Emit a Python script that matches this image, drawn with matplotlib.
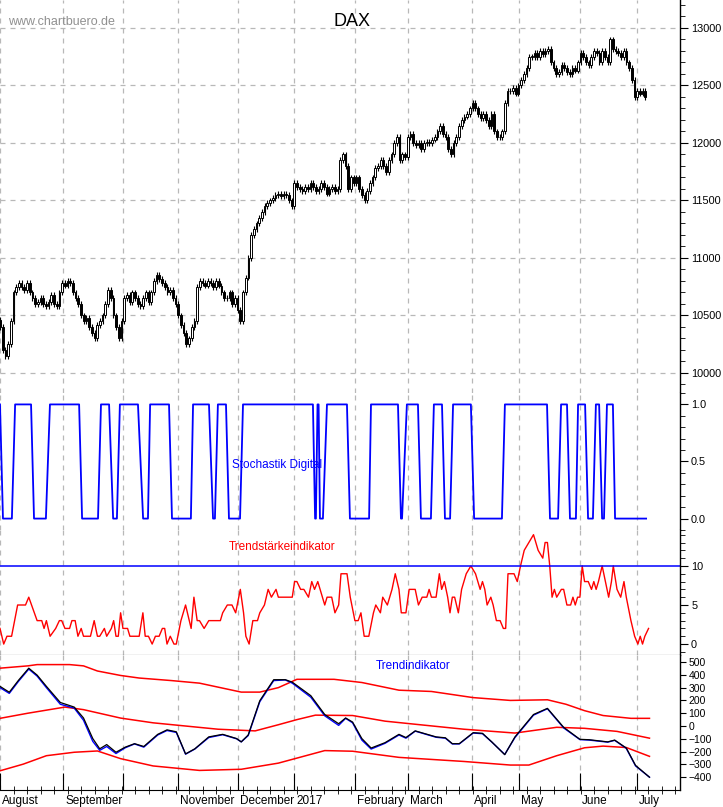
import numpy as np
import matplotlib
matplotlib.use("Agg")
import matplotlib.pyplot as plt

plt.rcParams['font.family'] = ['Liberation Sans', 'DejaVu Sans']

# ---------------- data ----------------
month_labels = ["August", "September", "", "November", "December", "2017", "February",
                "March", "April", "May", "June", "July"]
month_start_day = [0, 23.3, 45.6, 65.9, 88.1, 108.9, 131.5, 151.1, 174.8, 192.2, 214.8, 235.9]

dax_close = [
    10400, 10200, 10150, 10250,
    10450, 10700, 10750, 10780, 10750, 10720, 10780,
    10700, 10650, 10600, 10620, 10650, 10600, 10580, 10620, 10680, 10600, 10580,
    10700, 10780, 10760, 10800, 10780, 10700, 10650, 10600,
    10500, 10450, 10480, 10400, 10350, 10300, 10420, 10450, 10500, 10600,
    10720, 10650, 10500, 10400, 10300, 10450,
    10650, 10680, 10620, 10700, 10650, 10600, 10580, 10650, 10700, 10620,
    10700, 10800, 10850, 10820, 10780, 10750, 10700,
    10720, 10650, 10600, 10500,
    10420, 10350, 10250, 10300, 10400, 10450,
    10750, 10800, 10780, 10760, 10800, 10780, 10750, 10800, 10760, 10700, 10650,
    10650, 10700, 10600, 10650, 10550, 10450,
    10700, 10830, 11000,
    11200, 11250, 11300, 11350, 11400, 11450,
    11480, 11500, 11520, 11550, 11560, 11540, 11560, 11550, 11500, 11450,
    11650, 11620, 11600, 11580, 11620, 11600, 11650, 11620, 11580, 11600, 11650, 11620,
    11560, 11600, 11620, 11580,
    11600, 11850, 11900,
    11800, 11600, 11700, 11650, 11700, 11600, 11550, 11500,
    11580, 11650, 11700, 11780, 11800,
    11850, 11800, 11750, 11850, 11900,
    12000, 12050, 11850, 11900, 11880,
    12050, 12080, 12000, 11980, 12000, 11950, 12000, 12010, 12000, 12030, 12050,
    12100, 12150, 12080, 12050, 11950, 11900, 12000, 12050, 12150,
    12200, 12230, 12250, 12300, 12350, 12300, 12250,
    12220, 12250, 12200, 12150, 12250, 12100, 12050, 12050, 12100,
    12350, 12450, 12450, 12480, 12430,
    12500, 12550, 12600, 12650, 12750,
    12750, 12780, 12750, 12800, 12770, 12800, 12820,
    12700, 12650, 12600, 12620, 12680, 12650, 12620, 12600, 12650, 12630, 12700,
    12780, 12750, 12700, 12680, 12750, 12800, 12780, 12700, 12800, 12750, 12700,
    12900, 12820, 12800, 12780, 12750, 12800, 12700, 12650,
    12550, 12400, 12450, 12430, 12450, 12400,
]

stoch_day = [0, 1.1, 4.4, 5.6, 11.5, 12.6, 17, 18.5, 29.3, 30.4, 36.3, 37.4, 40.4, 41.9,
             43.3, 44.4, 51.1, 53, 54.8, 55.6, 62.6, 63.7, 70.7, 71.5, 77.4, 78.9, 79.6,
             80.7, 83.7, 84.8, 88.9, 90, 115.9, 116.7, 117, 117.6, 118, 118.5, 119.6,
             121.1, 128.5, 129.6, 136.7, 137.4, 147.4, 148.5, 148.9, 150.7, 154.8, 155.9,
             159.6, 160.7, 163.7, 164.8, 166.7, 167.8, 174.4, 175.6, 185.9, 187, 202.6,
             203.7, 206.7, 207.8, 210, 211.1, 213.3, 214.1, 216.7, 217.8, 219.6, 220.7,
             221.9, 223, 223.7, 224.8, 227, 227.8, 239.3]
stoch_val = [1, 0, 0, 1, 1, 0, 0, 1, 1, 0, 0, 1, 1, 0,
             0, 1, 1, 0, 0, 1, 1, 0, 0, 1, 1, 0, 0,
             1, 1, 0, 0, 1, 1, 0, 0, 1, 1, 0, 0,
             1, 1, 0, 0, 1, 1, 0, 0, 1, 1, 0,
             0, 1, 1, 0, 0, 1, 1, 0, 0, 1, 1,
             0, 0, 1, 1, 0, 0, 1, 1, 0, 0, 1,
             1, 0, 0, 1, 1, 0, 0]

# trend strength: positions read in 1/5.82 trading-day units
ts_pos = [0, 8, 15, 25, 38, 55, 62, 80, 90, 95, 100, 108, 120, 128, 133, 140, 150, 155, 162,
          168, 175, 180, 195, 203, 210, 215, 225, 230, 240, 245, 250, 255, 260, 265, 275,
          280, 290, 300, 308, 313, 320, 328, 335, 343, 350, 355, 360, 367, 375, 380, 390,
          400, 412, 418, 425, 430, 440, 450, 475, 480, 490, 500, 508, 518, 525, 530, 537,
          545, 555, 560, 570, 578, 585, 595, 600, 630, 635, 640, 648, 655, 665, 672, 678,
          685, 690, 700, 705, 715, 722, 730, 735, 748, 755, 765, 772, 778, 785, 795, 805,
          810, 820, 825, 835, 845, 852, 860, 865, 875, 882, 895, 902, 910, 920, 925, 930,
          940, 947, 952, 958, 965, 970, 975, 980, 988, 995, 1005, 1015, 1025, 1035, 1040,
          1045, 1050, 1058, 1063, 1070, 1078, 1085, 1090, 1095, 1108, 1115, 1122, 1130,
          1140, 1150, 1160, 1170, 1175, 1180, 1185, 1190, 1195, 1200, 1210, 1215, 1222,
          1230, 1235, 1240, 1245, 1250, 1255, 1260, 1268, 1275, 1280, 1285, 1290, 1298,
          1305, 1312, 1318, 1322, 1330, 1338, 1345, 1350, 1360, 1368, 1375, 1380, 1385,
          1390, 1398]
ts_val = [2, 0, 1, 1, 5, 5, 6, 3, 3, 2, 3, 1, 2, 3, 3, 2, 2, 3, 3,
          1, 2, 1, 1, 3, 1, 1, 2, 1, 2, 3, 1, 1, 4, 2, 2,
          1, 1, 1, 4, 1, 1, 0, 1, 1, 2, 2, 0, 1, 0, 0, 3,
          5, 2, 6, 3, 3, 2, 3, 3, 4, 5, 5, 4, 7, 4, 1, 0,
          3, 3, 4, 5, 7, 6, 7, 6, 6, 8, 8, 7, 7, 6, 8, 7,
          8, 7, 5, 6, 6, 4, 5, 9, 9, 6, 3, 3, 4, 1, 1, 4,
          5, 4, 6, 5, 7, 9, 7, 4, 4, 7, 7, 5, 6, 6, 7, 6,
          6, 9, 7, 8, 6, 4, 6, 6, 4, 7, 9, 10, 9, 7, 8,
          7, 5, 6, 5, 3, 3, 2, 2, 9, 9, 8, 10, 12,
          13, 14, 12, 11, 13, 13, 10, 6, 7, 6, 7, 7, 5,
          5, 6, 5, 6, 6, 10, 8, 8, 7, 8, 7, 8, 10,
          8, 6, 8, 10, 7, 6, 8, 6, 3, 1, 0, 1, 0,
          1, 2]

ti_upper_pos = [0, 60, 80, 150, 180, 210, 260, 300, 370, 430, 520, 560, 600, 640, 720, 780,
                860, 930, 1020, 1100, 1180, 1220, 1260, 1300, 1360, 1400]
ti_upper_val = [452, 470, 480, 480, 470, 430, 395, 375, 355, 335, 265, 265, 300, 365, 365,
                340, 280, 270, 222, 200, 205, 170, 120, 82, 60, 60]
ti_mid_pos = [0, 60, 140, 180, 260, 330, 470, 550, 600, 640, 680, 760, 830, 900, 1000, 1110,
              1160, 1200, 1260, 1330, 1400]
ti_mid_val = [60, 100, 148, 128, 62, 25, -25, -38, 10, 50, 85, 82, 38, 12, -25, -55, -30,
              -10, -18, -42, -95]
ti_lower_pos = [0, 50, 100, 160, 210, 260, 330, 430, 520, 600, 700, 760, 860, 1000, 1100,
                1140, 1200, 1260, 1300, 1350, 1400]
ti_lower_val = [-350, -298, -232, -205, -195, -255, -312, -347, -338, -290, -192, -197, -245,
                -277, -305, -305, -232, -170, -157, -168, -237]
ti_line_pos = [0, 20, 40, 62, 80, 100, 130, 160, 180, 200, 215, 230, 250, 270, 290, 310, 340,
               360, 380, 400, 420, 450, 480, 510, 520, 535, 560, 590, 615, 630, 670, 700, 730,
               745, 760, 780, 800, 830, 860, 875, 895, 940, 960, 975, 990, 1020, 1040, 1060,
               1088, 1110, 1150, 1180, 1215, 1250, 1270, 1310, 1325, 1350, 1370, 1400]
ti_black_val = [310, 264, 358, 452, 398, 310, 184, 148, 63, -98, -178, -145, -205, -165, -138,
                -160, -65, -30, -45, -218, -178, -85, -65, -98, -124, -70, 198, 362, 362, 343,
                237, 90, 18, 63, 31, -98, -172, -130, -65, -90, -38, -85, -92, -138, -138, -52,
                -57, -124, -224, -85, 90, 138, -10, -104, -107, -124, -110, -172, -308, -400]
ti_blue_val = [300, 255, 350, 445, 390, 300, 170, 140, 45, -120, -190, -160, -215, -170, -140,
               -165, -70, -35, -50, -220, -180, -90, -68, -100, -124, -75, 190, 355, 360, 335,
               225, 80, 5, 60, 25, -110, -180, -135, -70, -95, -40, -88, -95, -140, -140, -55,
               -60, -125, -222, -90, 85, 135, -15, -106, -110, -126, -112, -175, -312, -400]

POS_PER_DAY = 5.82  # unit of the *_pos lists

# ---------------- figure ----------------
W, H = 723, 807
fig = plt.figure(figsize=(W / 100, H / 100), dpi=100)
XR = 680
def add_ax(top, bottom):
    return fig.add_axes([0, 1 - bottom / H, XR / W, (bottom - top) / H])

ax1 = add_ax(0, 393)
ax2 = add_ax(393, 530)
ax3 = add_ax(530, 655)
ax4 = add_ax(655, 790)
axes = [ax1, ax2, ax3, ax4]
XMAX = XR / 2.7
for ax in axes:
    ax.set_xlim(0, XMAX)
    for s in ['left', 'top', 'bottom']:
        ax.spines[s].set_visible(False)
    ax.spines['right'].set_linewidth(1)
    ax.yaxis.tick_right()
    ax.tick_params(axis='y', which='major', length=6, labelsize=7.8, pad=2, direction='out')
    ax.tick_params(axis='y', which='minor', length=3.5, direction='out')
    ax.set_xticks([])
    for d in month_start_day:
        ax.axvline(d, color='#b8b8b8', lw=0.9, ls=(0, (4, 4)), zorder=0)

# price
close = np.array(dax_close, dtype=float)
days = np.arange(len(close))
opens = np.concatenate([[close[0] + 60], close[:-1]])
hi = np.maximum(opens, close) + 25
lo = np.minimum(opens, close) - 25
ax1.vlines(days, lo, hi, color='black', lw=0.8, zorder=2)
bw = 0.6
for d, o, c in zip(days, opens, close):
    up = c >= o
    ax1.add_patch(plt.Rectangle((d - bw / 2, min(o, c)), bw, max(abs(c - o), 4),
                                facecolor='white' if up else 'black', edgecolor='black',
                                lw=0.7, zorder=3))
ax1.set_ylim(9826, 13243)
ax1.set_yticks(np.arange(10000, 13001, 500))
ax1.set_yticks(np.arange(9900, 13201, 100), minor=True)
for v in np.arange(10000, 13001, 500):
    ax1.axhline(v, color='#b8b8b8', lw=0.9, ls=(0, (4, 4)), zorder=0)
ax1.text(352 / XR * XMAX, 13243 - 22 / 393 * (13243 - 9826), "DAX", ha='center', va='center',
         fontsize=13)
ax1.text(8 / XR * XMAX, 13243 - 22 / 393 * (13243 - 9826), "www.chartbuero.de", ha='left',
         va='center', fontsize=9, color='#909090')

# stochastik
ax2.plot(stoch_day, stoch_val, color='#0000ff', lw=1.3)
ax2.set_ylim(-0.1, 1.1)
ax2.set_yticks([0, 0.5, 1.0])
ax2.set_yticklabels(["0.0", "0.5", "1.0"])
ax2.set_yticks(np.arange(-0.1, 1.11, 0.1), minor=True)
ax2.text(232 / XR * XMAX, 0.465, "Stochastik Digital", color='#0000ff', fontsize=8.5, va='center')

# trend strength
tsx = np.array(ts_pos) / POS_PER_DAY
ax3.plot(tsx, ts_val, color='#ff0000', lw=1)
ax3.axhline(10, color='#0000ff', lw=1.1)
ax3.set_ylim(-1.4, 14.6)
ax3.set_yticks([0, 5, 10])
ax3.set_yticks(np.arange(-1, 15, 1), minor=True)
ax3.spines['bottom'].set_visible(True)
ax3.text(282 / XR * XMAX, 12.4, "Trendstärkeindikator", color='#ff0000', fontsize=8.5,
         ha='center', va='center')

# trendindikator
for p, v in [(ti_upper_pos, ti_upper_val), (ti_mid_pos, ti_mid_val), (ti_lower_pos, ti_lower_val)]:
    ax4.plot(np.array(p) / POS_PER_DAY, v, color='#ff0000', lw=1.1)
lx = np.array(ti_line_pos) / POS_PER_DAY
ax4.plot(lx, ti_blue_val, color='#0000ff', lw=1.0)
ax4.plot(lx, ti_black_val, color='black', lw=0.9)
ax4.set_ylim(-500, 555)
ax4.set_yticks(np.arange(-400, 501, 100))
ax4.tick_params(axis='y', which='major', labelsize=7.5, length=4)
ax4.spines['bottom'].set_visible(True)
ax4.text(376 / XR * XMAX, 470, "Trendindikator", color='#0000ff', fontsize=8.5, va='center')
ax4.set_xticks(month_start_day)
ax4.set_xticks(np.arange(0, XMAX, 5), minor=True)
ax4.tick_params(axis='x', which='major', length=12, direction='in', bottom=True, labelbottom=False)
ax4.tick_params(axis='x', which='minor', length=6, direction='inout', bottom=True)
for d, lab in zip(month_start_day, month_labels):
    ax4.text(d + 0.8, -500 - 11 / 135 * 1055, lab, fontsize=8.5, ha='left', va='center',
             clip_on=False)

fig.savefig("out.png", dpi=100)
